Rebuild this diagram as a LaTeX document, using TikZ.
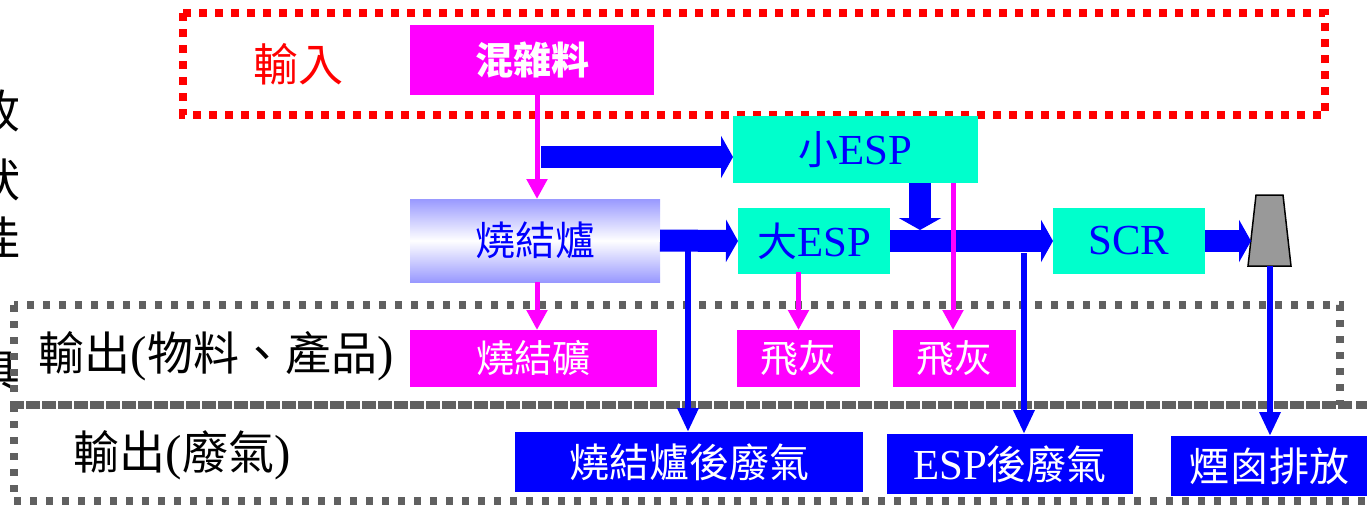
\documentclass[tikz,border=0pt]{standalone}
\usepackage{fontspec}
\setmainfont[Scale=1.07]{Liberation Serif}
\newfontfamily\cjk{Noto Sans CJK TC}
\usetikzlibrary{arrows.meta}
\definecolor{mag}{RGB}{255,0,255}
\definecolor{tealc}{RGB}{0,255,204}
\definecolor{blu}{RGB}{0,0,255}
\definecolor{lav}{RGB}{153,153,255}
\definecolor{dgray}{RGB}{96,96,96}
\definecolor{sgray}{RGB}{153,153,153}
\definecolor{redc}{RGB}{255,0,0}
\begin{document}
\begin{tikzpicture}[x=1pt,y=-1pt,
 box/.style={rectangle, inner sep=0pt, outer sep=0pt, draw=none, font=\fontsize{40}{44}\selectfont},
 magbox/.style={box, fill=mag, text=white},
 tealbox/.style={box, fill=tealc, text=blu},
 bluebox/.style={box, fill=blu, text=white},
 fat/.style={draw=blu, line width=22pt, -{Triangle[width=42pt,length=12pt]}},
 thinb/.style={draw=blu, line width=6pt, -{Triangle[width=20pt,length=24pt]}},
 thinm/.style={draw=mag, line width=5pt, -{Triangle[width=20pt,length=20pt]}},
 reddot/.style={draw=redc, line width=8pt, dash pattern=on 8pt off 8pt},
 graydot/.style={draw=dgray, line width=7.5pt, dash pattern=on 7pt off 9pt},
 lbl/.style={inner sep=0pt, font=\fontsize{46}{50}\selectfont}]
\useasboundingbox (0,0) rectangle (1367,507);
\fill[white] (0,0) rectangle (1367,507);

% cut-off text at the left edge
\node[lbl] (e1) at (-2,111) {\cjk 收};
\node[lbl] (e2) at (-2,180) {\cjk 狀};
\node[lbl] (e3) at (-2,238) {\cjk 佳};
\node[lbl] (e4) at (-2,372) {\cjk 具};

% dotted frames
\draw[reddot] (183,13) rectangle (1325,115);
\draw[graydot] (14,305) rectangle (1340,405);
\draw[graydot] (14,405) rectangle (1395,501);
\draw[graydot] (1340,405) -- (1367,405);

% labels
\node[lbl, text=redc, font=\fontsize{45}{50}\selectfont] (in) at (298,64) {\cjk 輸入};
\node[lbl] (out1) at (216,356) {{\cjk 輸出}({\cjk 物料、產品})};
\node[lbl] (out2) at (182,455) {{\cjk 輸出}({\cjk 廢氣})};

% boxes
\node[magbox, minimum width=244pt, minimum height=70pt, font=\fontsize{38}{42}\selectfont] (mix) at (532,60) {\cjk\bfseries 混雜料};
\node[box, minimum width=250pt, minimum height=83pt, top color=lav, bottom color=lav, middle color=white, text=blu] (skl) at (535,240.5) {\cjk 燒結爐};
\node[magbox, minimum width=247pt, minimum height=57pt, font=\fontsize{38}{42}\selectfont] (ore) at (533.5,358.5) {\cjk 燒結礦};
\node[tealbox, minimum width=245pt, minimum height=67pt] (sesp) at (855.5,149.5) {{\cjk 小}ESP};
\node[tealbox, minimum width=152pt, minimum height=66pt] (lesp) at (814,241) {{\cjk 大}ESP};
\node[magbox, minimum width=123pt, minimum height=57pt, font=\fontsize{38}{42}\selectfont] (fa1) at (798.5,358.5) {\cjk 飛灰};
\node[magbox, minimum width=123pt, minimum height=57pt, font=\fontsize{38}{42}\selectfont] (fa2) at (954.5,358.5) {\cjk 飛灰};
\node[tealbox, minimum width=152pt, minimum height=66pt] (scr) at (1129,241) {SCR};
\node[bluebox, minimum width=348pt, minimum height=60pt] (gw1) at (689,462) {\cjk 燒結爐後廢氣};
\node[bluebox, minimum width=246pt, minimum height=60pt] (gw2) at (1010,464) {ESP{\cjk 後廢氣}};
\node[bluebox, minimum width=196pt, minimum height=60pt] (gw3) at (1269,466) {\cjk 煙囪排放};

% stack
\draw[fill=sgray, draw=black, line width=1.5pt] (1256,195) -- (1283,195) -- (1291,266) -- (1248,266) -- cycle;
\coordinate (stkL) at (1251,241);
\coordinate (stkB) at (1270,266);

% helper coordinates
\coordinate (c1) at (537,0);
\coordinate (f1) at (541,157);
\coordinate (dn) at (920,230);
\coordinate (m2) at (953,0);
\coordinate (b1) at (688,250);
\coordinate (b2) at (1024,253);

% fat arrows
\draw[fat] (f1) -- (sesp.west |- f1);
\draw[fat] (skl.east) -- (lesp.west);
\draw[fat] (sesp.south -| dn) -- (dn);
\draw[fat] (lesp.east) -- (scr.west);
\draw[fat] (scr.east) -- (stkL);

% thin blue arrows
\draw[thinb] (b1) -- (gw1.north -| b1);
\draw[thinb] (b2) -- (gw2.north -| b2);
\draw[thinb] (stkB) -- (gw3.north -| stkB);

% magenta arrows
\draw[thinm] (mix.south -| c1) -- (skl.north -| c1);
\draw[thinm] (skl.south -| c1) -- (ore.north -| c1);
\draw[thinm] ([yshift=2pt]lesp.south -| fa1.north) -- (fa1.north);
\draw[thinm] (sesp.south -| m2) -- (fa2.north -| m2);
\end{tikzpicture}
\end{document}
